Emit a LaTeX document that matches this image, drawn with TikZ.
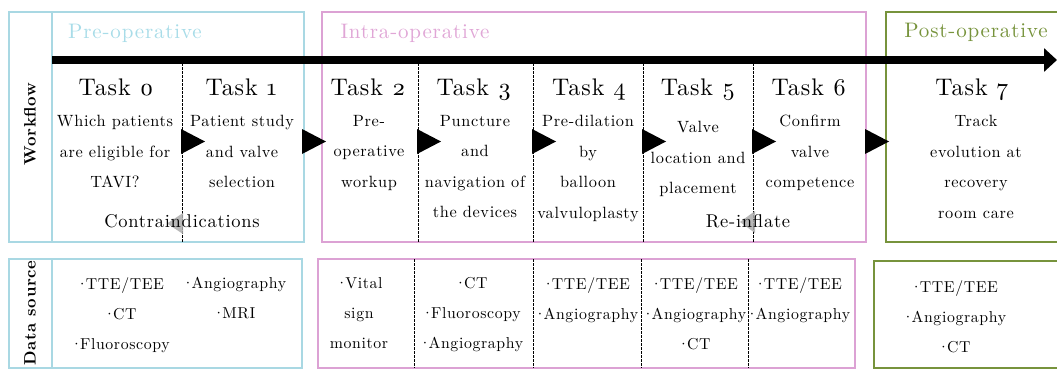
\documentclass[tikz,border=0pt]{standalone}
\usepackage{fontspec}
\setmainfont{lmroman10-regular.otf}[BoldFont=lmroman10-bold.otf, LetterSpace=4]
\usetikzlibrary{arrows.meta}
\definecolor{preblue}{HTML}{A9D8E3}
\definecolor{pretext}{HTML}{A8DCE8}
\definecolor{intrapink}{HTML}{DCA2D4}
\definecolor{intratext}{HTML}{E0A6D6}
\definecolor{postgreen}{HTML}{77933C}
\newcommand{\bul}{·\kern-2.5pt}
\begin{document}
\begin{tikzpicture}[x=1pt,y=-1pt,
  phasebox/.style={line width=2.5pt},
  sepline/.style={line width=0.7pt, dash pattern=on 2.5pt off 1.5pt},
  tasktitle/.style={font=\fontsize{24}{28}\selectfont\addfontfeatures{Numbers=OldStyle}, anchor=base, inner sep=0pt},
  desc/.style={font=\fontsize{16.3}{30.5}\selectfont, align=center, anchor=north, inner sep=0pt},
  datatext/.style={font=\fontsize{15.8}{30}\selectfont, align=center, anchor=north, inner sep=0pt},
  loopnote/.style={font=\fontsize{18.5}{20}\selectfont, anchor=base, inner sep=0pt},
  side/.style={font=\bfseries\fontsize{16.5}{18}\selectfont, rotate=90, inner sep=0pt},
  phase/.style={font=\fontsize{21}{24}\selectfont, anchor=base, inner sep=0pt},
  forward/.style={fill=black},
  backward/.style={fill=gray!65, opacity=0.85}]
\useasboundingbox (0,0) rectangle (1057,370);

% ---------- phase boxes (top) ----------
\draw[phasebox, preblue] (9,12) rectangle (304,242);
\draw[phasebox, preblue] (52,12) -- (52,242);
\draw[phasebox, intrapink] (322,12) rectangle (866,242);
\draw[phasebox, postgreen] (886,12) rectangle (1070,242);

% ---------- phase boxes (bottom) ----------
\draw[phasebox, preblue] (9,259) rectangle (302,368);
\draw[phasebox, preblue] (52,259) -- (52,368);
\draw[phasebox, intrapink] (318,259) rectangle (855,368);
\draw[phasebox, postgreen] (874,261) rectangle (1070,368);

% ---------- dashed separators ----------
\foreach \x in {182,418,533,643,753}
  \draw[sepline] (\x,63) -- (\x,242);
\foreach \x in {414,533,641,748}
  \draw[sepline] (\x,259) -- (\x,368);

% ---------- main timeline arrow ----------
\coordinate (tstart) at (52,60);
\coordinate (tend) at (1057,60);
\draw[line width=8pt, -{Triangle[length=13pt,width=23pt]}] (tstart) -- (tend);

% ---------- forward triangles ----------
\foreach \x in {181,302,417,532,642,752,865}
  \fill[forward] (\x,129) -- (\x+24,141.5) -- (\x,154) -- cycle;

% ---------- backward (grey) triangles ----------
\fill[backward] (183,213) -- (167,223.5) -- (183,234) -- cycle;
\fill[backward] (755,211) -- (740,222) -- (755,233) -- cycle;

% ---------- phase labels ----------
\node[phase, text=pretext] (pre) at (135,38) {Pre-operative};
\node[phase, text=intratext] (intra) at (415,38) {Intra-operative};
\node[phase, text=postgreen] (post) at (976,37) {Post-operative};

% ---------- side labels ----------
\node[side] (wf) at (30,124) {Workflow};
\node[side] (ds) at (30,313) {Data source};

% ---------- task titles ----------
\node[tasktitle] (t0) at (116,95) {Task 0};
\node[tasktitle] (t1) at (241,95) {Task 1};
\node[tasktitle] (t2) at (368,95) {Task 2};
\node[tasktitle] (t3) at (474,95) {Task 3};
\node[tasktitle] (t4) at (589,95) {Task 4};
\node[tasktitle] (t5) at (698,95) {Task 5};
\node[tasktitle] (t6) at (809,95) {Task 6};
\node[tasktitle] (t7) at (972,95) {Task 7};

% ---------- task descriptions ----------
\node[desc] (d0) at (115,115) {Which patients\\are eligible for\\TAVI?};
\node[desc] (d1) at (242,115) {Patient study\\and valve\\selection};
\node[desc] (d2) at (369,115) {Pre-\\operative\\workup};
\node[desc] (d3) at (475,115) {Puncture\\and\\navigation of\\the devices};
\node[desc] (d4) at (588,115) {Pre-dilation\\by\\balloon\\valvuloplasty};
\node[desc] (d5) at (698,121) {Valve\\location and\\placement};
\node[desc] (d6) at (810,115) {Confirm\\valve\\competence};
\node[desc] (d7) at (976,115) {Track\\evolution at\\recovery\\room care};

% ---------- loop notes ----------
\node[loopnote] (ci) at (182,227) {Contraindications};
\node[loopnote] (ri) at (748,227) {Re-inflate};

% ---------- data sources ----------
\node[datatext] (s0a) at (120,277) {\bul TTE/TEE\\\bul CT\\\bul Fluoroscopy};
\node[datatext] (s0b) at (234,277) {\bul Angiography\\\bul MRI};
\node[datatext] (s2) at (359,277) {\bul Vital\\sign\\monitor};
\node[datatext] (s3) at (471,277) {\bul CT\\\bul Fluoroscopy\\\bul Angiography};
\node[datatext] (s4) at (586,277) {\bul TTE/TEE\\\bul Angiography};
\node[datatext] (s5) at (694,277) {\bul TTE/TEE\\\bul Angiography\\\bul CT};
\node[datatext] (s6) at (798,277) {\bul TTE/TEE\\\bul Angiography};
\node[datatext] (s7) at (954,280) {\bul TTE/TEE\\\bul Angiography\\\bul CT};
\end{tikzpicture}
\end{document}
